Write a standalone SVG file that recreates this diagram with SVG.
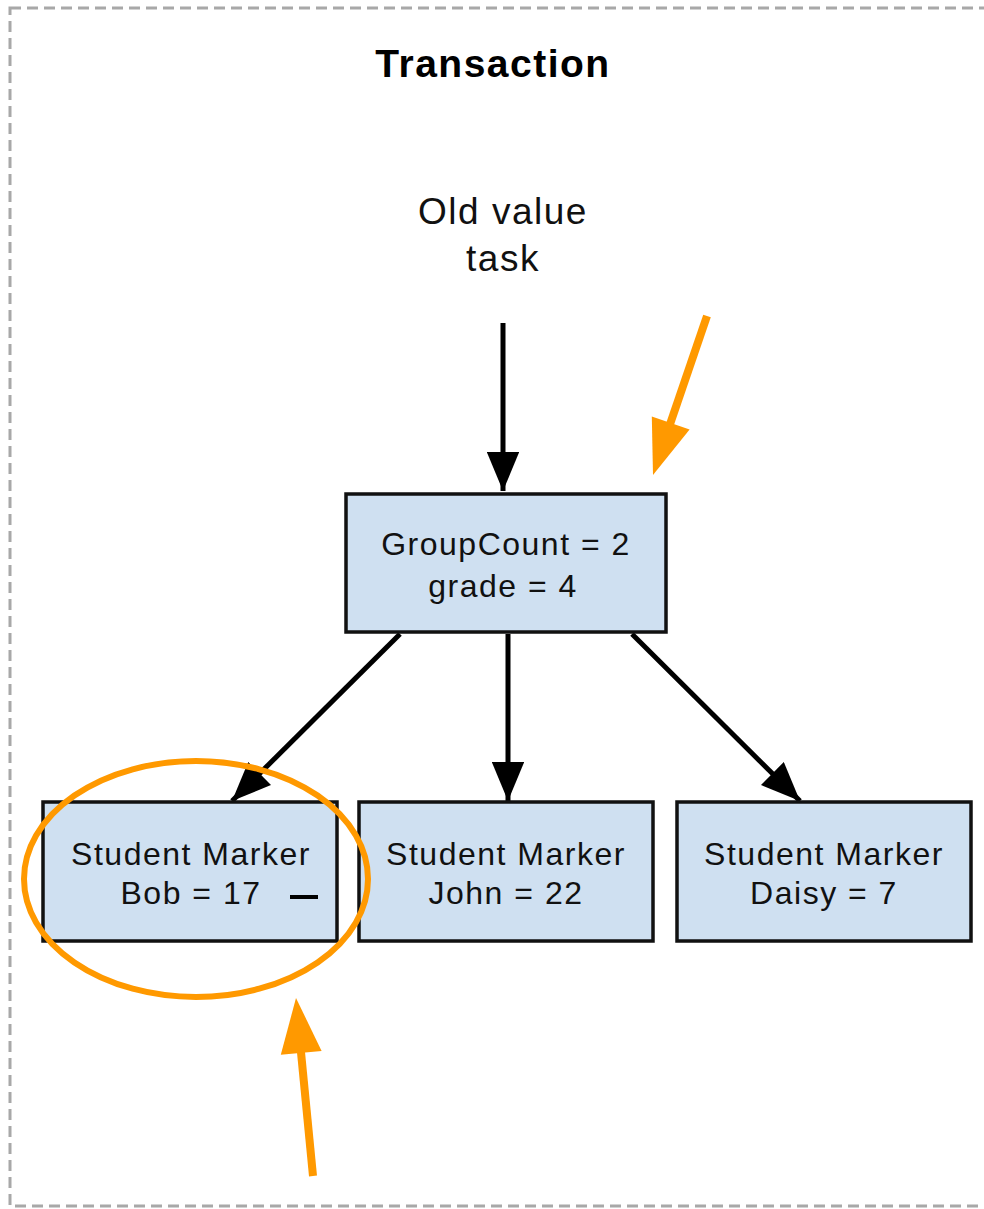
<svg xmlns="http://www.w3.org/2000/svg" width="984" height="1209" viewBox="0 0 984 1209">
  <style>
    .frame { fill: none; stroke: #a8a8a8; stroke-width: 3; stroke-dasharray: 11 6; }
    .box { fill: #cfe0f1; stroke: #111; stroke-width: 3.5; }
    .lbl { font-family: "Liberation Sans", Arial, sans-serif; font-size: 32px; letter-spacing: 1.5px; fill: #111; text-anchor: middle; }
    .title { font-family: "Liberation Sans", Arial, sans-serif; font-size: 39px; font-weight: bold; letter-spacing: 1.5px; fill: #000; text-anchor: middle; }
    .edge { stroke: #000; stroke-width: 5; fill: none; }
    .hl { stroke: #ff9900; stroke-width: 8; fill: none; }
    .hlhead { fill: #ff9900; }
  </style>
  <defs>
    <!-- black arrowhead: about 40 long, 32 wide at stroke 5 -->
    <marker id="ah" viewBox="0 0 12 10" refX="12" refY="5" markerWidth="8" markerHeight="6.5" markerUnits="strokeWidth" orient="auto">
      <path d="M0,0 L12,5 L0,10 z" fill="#000"/>
    </marker>
  </defs>

  <rect class="frame" x="10" y="8" width="990" height="1198"/>
  <text class="title" x="493" y="77">Transaction</text>

  <g id="source">
    <text class="lbl" x="503" y="224" style="font-size:37px">Old value</text>
    <text class="lbl" x="503" y="271" style="font-size:37px">task</text>
  </g>

  <g id="connectors">
    <line class="edge" x1="503" y1="323" x2="503" y2="491" marker-end="url(#ah)"/>
    <line class="edge" x1="400" y1="634" x2="232" y2="801" marker-end="url(#ah)"/>
    <line class="edge" x1="508" y1="634" x2="508" y2="801" marker-end="url(#ah)"/>
    <line class="edge" x1="632" y1="634" x2="800" y2="801" marker-end="url(#ah)"/>
  </g>

  <g id="groupcount">
    <rect class="box" x="346" y="494" width="320" height="138"/>
    <text class="lbl" x="506" y="555">GroupCount = 2</text>
    <text class="lbl" x="503" y="597">grade = 4</text>
  </g>

  <g id="bob">
    <rect class="box" x="43" y="802" width="294" height="139"/>
    <text class="lbl" x="191" y="865">Student Marker</text>
    <text class="lbl" x="191" y="904">Bob = 17</text>
    <line x1="290" y1="897" x2="318" y2="897" stroke="#000" stroke-width="4"/>
  </g>

  <g id="john">
    <rect class="box" x="359" y="802" width="294" height="139"/>
    <text class="lbl" x="506" y="865">Student Marker</text>
    <text class="lbl" x="506" y="904">John = 22</text>
  </g>

  <g id="daisy">
    <rect class="box" x="677" y="802" width="294" height="139"/>
    <text class="lbl" x="824" y="865">Student Marker</text>
    <text class="lbl" x="824" y="904">Daisy = 7</text>
  </g>

  <g id="highlight">
    <ellipse cx="196" cy="879" rx="172" ry="118" fill="none" stroke="#ff9900" stroke-width="6"/>
    <line class="hl" x1="707" y1="316" x2="667" y2="433"/>
    <polygon class="hlhead" points="653,475 651.8,416.6 689.6,429.4"/>
    <line class="hl" x1="313" y1="1176" x2="300" y2="1042"/>
    <polygon class="hlhead" points="296,998 321.6,1050.9 280.8,1054.8"/>
  </g>
</svg>
